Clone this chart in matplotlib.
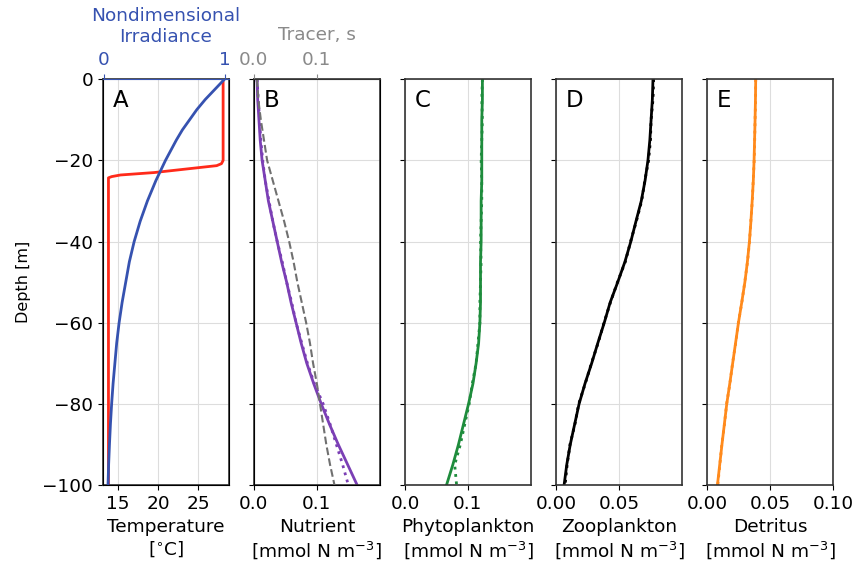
import matplotlib.pyplot as plt

# depth levels (m) for the biology profiles
depth = [0, -5, -10, -15, -20, -25, -30, -35, -40, -45, -50,
         -55, -60, -65, -70, -75, -80, -85, -90, -95, -100]

# panel A: temperature and irradiance
temp_depth = [0, -20, -20.8, -21.3, -23.0, -23.6, -24.0, -24.3, -100]
temperature = [28.1, 28.1, 27.9, 27.3, 19.5, 15.3, 14.2, 13.8, 13.8]
irr_depth = [0, -2.5, -5, -7.5, -10, -12.5, -15, -17.5, -20, -22.5, -25, -27.5, -30,
             -35, -40, -45, -50, -55, -60, -65, -70, -75, -80, -85, -90, -95, -100]
irradiance = [1.0, 0.92, 0.84, 0.77, 0.71, 0.65, 0.60, 0.555, 0.51, 0.47, 0.43, 0.395, 0.36,
              0.30, 0.25, 0.21, 0.18, 0.15, 0.125, 0.105, 0.09, 0.075, 0.063, 0.053, 0.045,
              0.038, 0.033]

# panel B
nutrient = [0.005, 0.006, 0.008, 0.010, 0.013, 0.018, 0.023, 0.030, 0.037, 0.044, 0.052,
            0.059, 0.067, 0.075, 0.084, 0.095, 0.107, 0.120, 0.134, 0.149, 0.164]
nutrient_dot = [0.005, 0.007, 0.009, 0.011, 0.014, 0.018, 0.024, 0.030, 0.037, 0.045, 0.052,
                0.060, 0.067, 0.076, 0.085, 0.096, 0.110, 0.121, 0.131, 0.141, 0.150]
tracer = [0.005, 0.007, 0.011, 0.016, 0.021, 0.030, 0.039, 0.048, 0.056, 0.063, 0.069,
          0.076, 0.083, 0.089, 0.094, 0.100, 0.105, 0.110, 0.115, 0.121, 0.128]

# panel C
phyto = [0.123, 0.123, 0.122, 0.122, 0.122, 0.122, 0.121, 0.121, 0.121, 0.120, 0.120,
         0.120, 0.119, 0.117, 0.113, 0.108, 0.101, 0.093, 0.085, 0.076, 0.066]
phyto_dot = [0.123, 0.122, 0.123, 0.122, 0.121, 0.122, 0.122, 0.121, 0.120, 0.121, 0.120,
             0.119, 0.119, 0.116, 0.113, 0.107, 0.102, 0.095, 0.088, 0.079, 0.082]

# panel D
zoo = [0.077, 0.0765, 0.0755, 0.0745, 0.073, 0.0707, 0.0677, 0.0635, 0.0594, 0.0547, 0.049,
       0.043, 0.0383, 0.0332, 0.0283, 0.023, 0.0183, 0.0148, 0.0113, 0.0085, 0.0064]
zoo_dot = [0.0775, 0.077, 0.0755, 0.075, 0.0735, 0.0705, 0.068, 0.0638, 0.0592, 0.055, 0.0488,
           0.0432, 0.0381, 0.0334, 0.0281, 0.0232, 0.018, 0.015, 0.0111, 0.0088, 0.0072]

# panel E
detritus = [0.0386, 0.0384, 0.0381, 0.0377, 0.0373, 0.0367, 0.0358, 0.0348, 0.0336, 0.032, 0.030,
            0.0275, 0.0249, 0.0226, 0.0203, 0.018, 0.0156, 0.0137, 0.0118, 0.010, 0.0082]
detritus_dot = [0.0386, 0.0385, 0.0381, 0.0378, 0.0374, 0.0366, 0.0359, 0.0347, 0.0337, 0.0321, 0.0299,
                0.0276, 0.0248, 0.0227, 0.0202, 0.0181, 0.0155, 0.0138, 0.0117, 0.0101, 0.0085]

FS = 13.3
BLUE = '#3652b0'
GRAY = '#8a8a8a'
plt.rcParams['font.size'] = FS

fig, axes = plt.subplots(1, 5, figsize=(8.57, 5.74), dpi=100, sharey=True)
fig.subplots_adjust(left=0.120, right=0.972, bottom=0.155, top=0.862, wspace=0.2)

for ax in axes:
    ax.set_ylim(-100, 0)
    ax.set_yticks([0, -20, -40, -60, -80, -100])
    ax.grid(True, color='#dddddd', lw=0.8)
    ax.set_axisbelow(True)
    for s in ax.spines.values():
        s.set_linewidth(1.2)
        s.set_color('#333333')
    ax.tick_params(labelsize=FS)

# A
ax = axes[0]
ax.plot(temperature, temp_depth, color='#ff2a1a', lw=2)
ax.set_xlim(13.1, 28.8)
ax.set_xticks([15, 20, 25])
ax.set_xlabel('Temperature\n[$^{\\circ}$C]', fontsize=FS)
ax.set_ylabel('Depth [m]', fontsize=11.5, labelpad=8)
axt = ax.twiny()
axt.plot(irradiance, irr_depth, color=BLUE, lw=2)
axt.set_xlim(-0.01, 1.035)
axt.set_xticks([0, 1])
axt.tick_params(colors=BLUE, labelsize=FS)
axt.spines['top'].set_color(BLUE)
axt.set_xlabel('Nondimensional\nIrradiance', color=BLUE, fontsize=FS, labelpad=7)

# B
ax = axes[1]
ax.plot(nutrient, depth, color='#7b3fb5', lw=2)
ax.plot(nutrient_dot, depth, color='#7b3fb5', lw=2, ls=':')
ax.set_xlim(0, 0.2)
ax.set_xticks([0, 0.1])
ax.set_xticklabels(['0.0', '0.1'])
ax.set_xlabel('Nutrient\n[mmol N m$^{-3}$]', fontsize=FS)
axt = ax.twiny()
axt.plot(tracer, depth, color='#707070', lw=1.5, ls='--')
axt.set_xlim(0, 0.2)
axt.set_xticks([0, 0.1])
axt.set_xticklabels(['0.0', '0.1'])
axt.tick_params(colors=GRAY, labelsize=FS)
axt.spines['top'].set_color('#333333')
axt.set_xlabel('Tracer, s', color=GRAY, fontsize=FS, labelpad=8)

# C
ax = axes[2]
ax.plot(phyto, depth, color='#1e8c3c', lw=2)
ax.plot(phyto_dot, depth, color='#1e8c3c', lw=2, ls=':')
ax.set_xlim(0, 0.2)
ax.set_xticks([0, 0.1])
ax.set_xticklabels(['0.0', '0.1'])
ax.set_xlabel('Phytoplankton\n[mmol N m$^{-3}$]', fontsize=FS)

# D
ax = axes[3]
ax.plot(zoo, depth, color='black', lw=2)
ax.plot(zoo_dot, depth, color='black', lw=2, ls=':')
ax.set_xlim(0, 0.1)
ax.set_xticks([0, 0.05])
ax.set_xticklabels(['0.00', '0.05'])
ax.set_xlabel('Zooplankton\n[mmol N m$^{-3}$]', fontsize=FS)

# E
ax = axes[4]
ax.plot(detritus, depth, color='#ff8a1c', lw=2)
ax.plot(detritus_dot, depth, color='#ff8a1c', lw=2, ls=':')
ax.set_xlim(0, 0.1)
ax.set_xticks([0, 0.05, 0.1])
ax.set_xticklabels(['0.00', '0.05', '0.10'])
ax.set_xlabel('Detritus\n[mmol N m$^{-3}$]', fontsize=FS)

for ax, letter in zip(axes, 'ABCDE'):
    ax.text(0.08, 0.975, letter, transform=ax.transAxes, fontsize=16.5,
            ha='left', va='top', zorder=5)

plt.savefig('out.png', dpi=100)
